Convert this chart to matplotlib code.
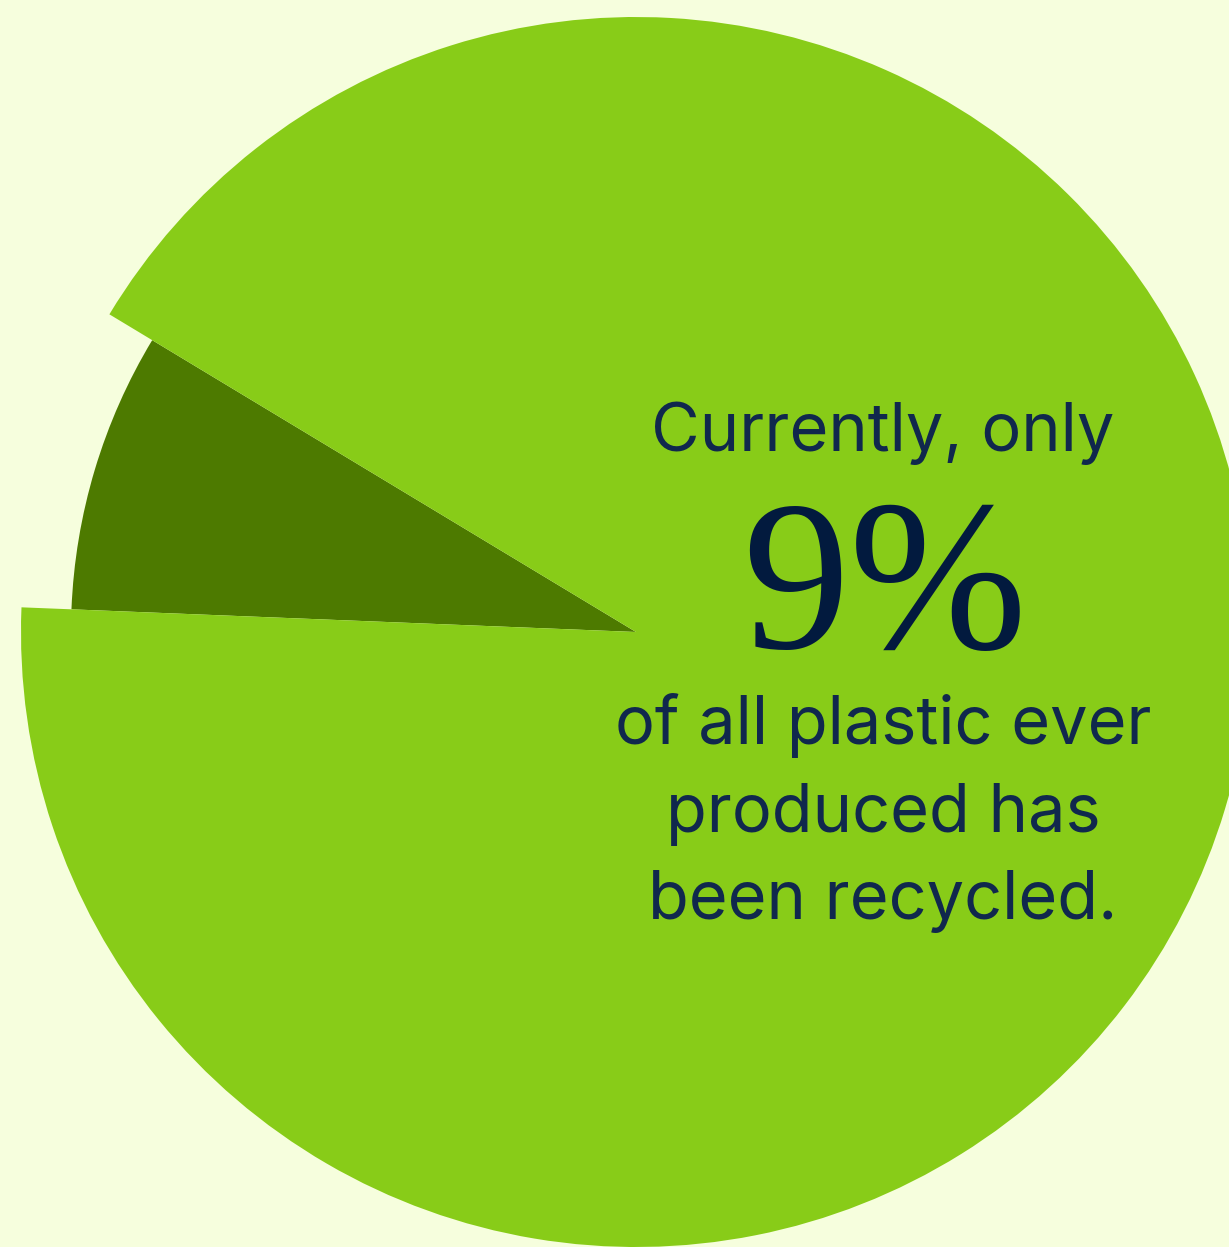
import matplotlib
matplotlib.use("Agg")
import matplotlib.pyplot as plt

# Data
labels = ["Recycled", "Not recycled"]
shares = [8, 92]
headline = "9%"
lines_top = ["Currently, only"]
lines_bottom = ["of all plastic ever", "produced has", "been recycled."]

BG = "#f6fedd"
LIGHT = "#88cc18"
DARK = "#4d7a00"
TEXT = "#10284d"
BIG = "#021a3e"

W, H = 1229, 1247
fig = plt.figure(figsize=(W / 100, H / 100), dpi=100, facecolor=BG)
ax = fig.add_axes([0, 0, 1, 1])
ax.set_facecolor(BG)

cx, cy = 636, H - 632
R = 615
wedges, _ = ax.pie(shares, colors=[DARK, LIGHT], startangle=148.9,
                   counterclock=True, radius=R, center=(cx, cy),
                   frame=True, wedgeprops=dict(linewidth=0))
wedges[0].set_radius(565)
ax.set_xlim(0, W)
ax.set_ylim(0, H)
ax.set_aspect("equal")
ax.axis("off")

font = "Inter"
tx = 883
ax.text(tx, H - 451, lines_top[0], ha="center", va="baseline",
        fontsize=48, family=font, color=TEXT)
ax.text(tx + 2, H - 648, headline, ha="center", va="baseline",
        fontsize=154, family="Liberation Serif", color=BIG)
for i, s in enumerate(lines_bottom):
    ax.text(tx, H - (744 + 87.5 * i), s, ha="center", va="baseline",
            fontsize=48, family=font, color=TEXT)

fig.savefig("out.png", dpi=100, facecolor=BG)
